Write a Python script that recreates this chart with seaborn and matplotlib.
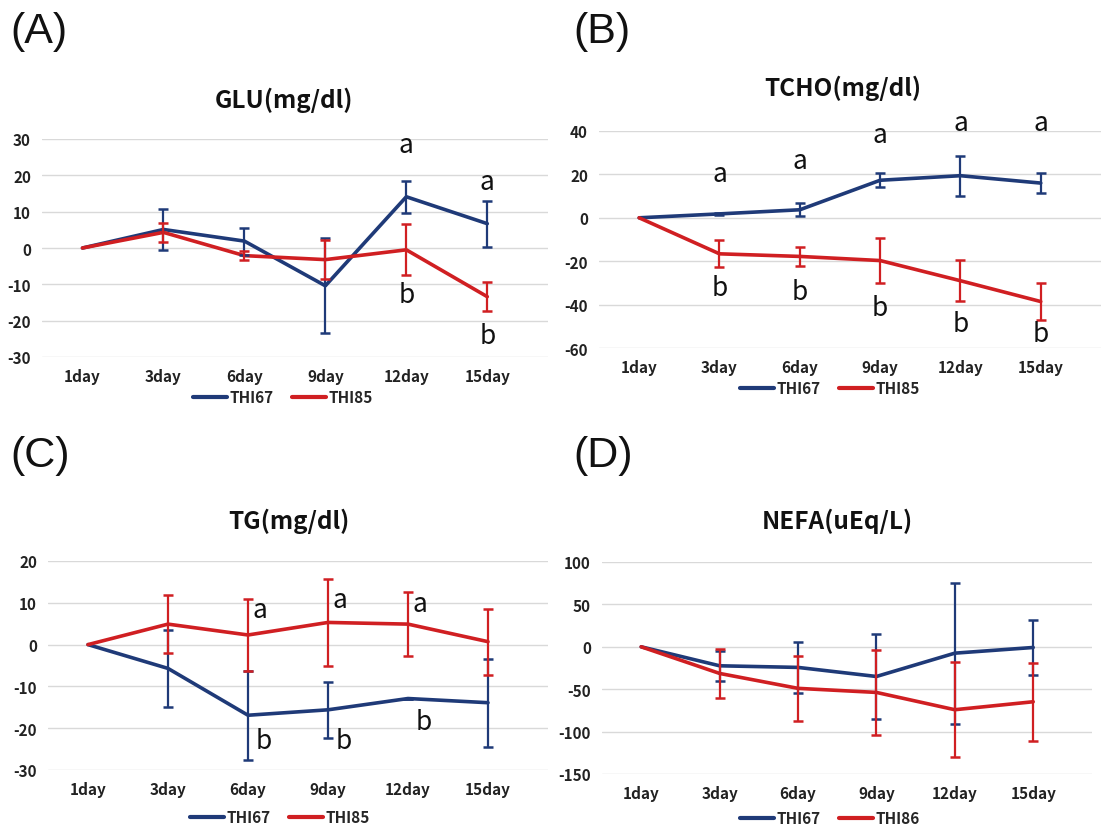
import numpy as np
import pandas as pd
import matplotlib
matplotlib.use("Agg")
import matplotlib.pyplot as plt
from matplotlib.lines import Line2D
import seaborn as sns

days = ["1day", "3day", "6day", "9day", "12day", "15day"]

# (A) GLU
glu_thi67 = [0, 5.1, 1.9, -10.4, 14.1, 6.7]
glu_thi67_err = [0, 5.6, 3.7, 13.1, 4.4, 6.3]
glu_thi85 = [0, 4.3, -2.1, -3.2, -0.5, -13.4]
glu_thi85_err = [0, 2.7, 1.3, 5.3, 7.0, 4.0]

# (B) TCHO
tcho_thi67 = [0, 1.8, 3.7, 17.3, 19.4, 16.0]
tcho_thi67_err = [0, 0.6, 3.0, 3.3, 9.2, 4.6]
tcho_thi85 = [0, -16.6, -17.8, -19.7, -29.0, -38.6]
tcho_thi85_err = [0, 6.2, 4.3, 10.5, 9.5, 8.7]

# (C) TG
tg_thi67 = [0, -5.7, -16.9, -15.6, -12.9, -13.9]
tg_thi67_err = [0, 9.2, 10.7, 6.7, 0, 10.5]
tg_thi85 = [0, 4.9, 2.3, 5.3, 4.9, 0.7]
tg_thi85_err = [0, 6.9, 8.5, 10.4, 7.6, 7.9]

# (D) NEFA
nefa_thi67 = [0, -22.4, -24.3, -35.0, -7.5, -0.8]
nefa_thi67_err = [0, 17.5, 30.0, 50.0, 83.0, 32.0]
nefa_thi86 = [0, -31.4, -49.0, -53.8, -74.2, -64.8]
nefa_thi86_err = [0, 29.0, 38.0, 50.0, 56.0, 46.0]

# significance letters: (day index, y, text)
glu_letters = [(4, 28.6, "a"), (4, -12.7, "b"), (5, 18.3, "a"), (5, -24.0, "b")]
tcho_letters = [(1, 20.3, "a"), (2, 26.4, "a"), (3, 38.2, "a"), (4, 44.0, "a"), (5, 44.0, "a"),
                (1, -32.0, "b"), (2, -34.0, "b"), (3, -41.5, "b"), (4, -48.8, "b"), (5, -53.5, "b")]
tg_letters = [(2.15, 8.5, "a"), (3.15, 10.8, "a"), (4.15, 9.9, "a"),
              (2.2, -23.0, "b"), (3.2, -23.0, "b"), (4.2, -18.5, "b")]
nefa_letters = []

NAVY = "#1f3a78"
RED = "#d01f22"
FONT = ["Noto Sans CJK KR", "DejaVu Sans"]

sns.set_theme(style="white")
plt.rcParams["font.family"] = FONT
plt.rcParams["axes.unicode_minus"] = False

fig = plt.figure(figsize=(11.04, 8.29), dpi=100)
W, H = 1104, 829


def add_axes(left_px, right_px, top_px, bottom_px):
    return fig.add_axes([left_px / W, 1 - bottom_px / H,
                         (right_px - left_px) / W, (bottom_px - top_px) / H])


panels = [
    dict(rect=(42, 548, 140, 358), title="GLU(mg/dl)", label="(A)",
         s1=("THI67", glu_thi67, glu_thi67_err), s2=("THI85", glu_thi85, glu_thi85_err),
         ylim=(-30, 30), yticks=[-30, -20, -10, 0, 10, 20, 30], letters=glu_letters,
         title_xy=(284, 100), label_xy=(10, 32), leg_y=398, leg_x=283),
    dict(rect=(599, 1101, 132, 349), title="TCHO(mg/dl)", label="(B)",
         s1=("THI67", tcho_thi67, tcho_thi67_err), s2=("THI85", tcho_thi85, tcho_thi85_err),
         ylim=(-60, 40), yticks=[-60, -40, -20, 0, 20, 40], letters=tcho_letters,
         title_xy=(843, 88), label_xy=(573, 32), leg_y=389, leg_x=830),
    dict(rect=(48, 548, 562, 771), title="TG(mg/dl)", label="(C)",
         s1=("THI67", tg_thi67, tg_thi67_err), s2=("THI85", tg_thi85, tg_thi85_err),
         ylim=(-30, 20), yticks=[-30, -20, -10, 0, 10, 20], letters=tg_letters,
         title_xy=(289, 521), label_xy=(10, 456), leg_y=818, leg_x=280),
    dict(rect=(602, 1092, 563, 775), title="NEFA(uEq/L)", label="(D)",
         s1=("THI67", nefa_thi67, nefa_thi67_err), s2=("THI86", nefa_thi86, nefa_thi86_err),
         ylim=(-150, 100), yticks=[-150, -100, -50, 0, 50, 100], letters=nefa_letters,
         title_xy=(837, 521), label_xy=(573, 456), leg_y=819, leg_x=830),
]

for p in panels:
    ax = add_axes(*p["rect"])
    n1, v1, e1 = p["s1"]
    n2, v2, e2 = p["s2"]
    df = pd.DataFrame({
        "day": days * 2,
        "value": list(v1) + list(v2),
        "group": [n1] * len(days) + [n2] * len(days),
    })
    ax.set_ylim(*p["ylim"])
    ax.set_yticks(p["yticks"])
    ax.yaxis.grid(True, color="#d9d9d9", linewidth=1.0)
    ax.set_axisbelow(True)
    sns.lineplot(data=df, x="day", y="value", hue="group", sort=False,
                 palette={n1: NAVY, n2: RED}, linewidth=2.6, ax=ax, legend=False)
    xs = np.arange(len(days))
    ax.errorbar(xs[1:], v1[1:], yerr=e1[1:], fmt="none", ecolor=NAVY,
                elinewidth=1.6, capsize=3.5, capthick=1.8, zorder=3)
    ax.errorbar(xs[1:], v2[1:], yerr=e2[1:], fmt="none", ecolor=RED,
                elinewidth=1.6, capsize=3.5, capthick=1.8, zorder=3)
    ax.set_xlim(-0.5, 5.75)
    ax.set_xticks(xs)
    ax.set_xticklabels(days)
    ax.set_xlabel("")
    ax.set_ylabel("")
    for s in ax.spines.values():
        s.set_visible(False)
    ax.tick_params(axis="both", length=0, labelsize=11, colors="#222222", pad=8)
    for t in ax.get_xticklabels() + ax.get_yticklabels():
        t.set_fontweight("bold")
    for (xi, yi, txt) in p["letters"]:
        ax.text(xi, yi, txt, ha="center", va="center", fontsize=19, color="#111111")
    handles = [Line2D([], [], color=NAVY, lw=3), Line2D([], [], color=RED, lw=3)]
    fig.legend(handles, [n1, n2], loc="center", ncol=2, frameon=False,
               bbox_to_anchor=(p["leg_x"] / W, 1 - p["leg_y"] / H),
               handlelength=2.2, handletextpad=0.2, columnspacing=1.2,
               prop={"family": FONT, "weight": "bold", "size": 11})
    fig.text(p["title_xy"][0] / W, 1 - p["title_xy"][1] / H, p["title"],
             ha="center", va="center", fontsize=17.5, fontweight="bold", color="#111111")
    fig.text(p["label_xy"][0] / W, 1 - p["label_xy"][1] / H, p["label"],
             ha="left", va="center", fontsize=31, family=["Liberation Sans", "DejaVu Sans"],
             color="#111111")

fig.savefig("out.png", dpi=100, facecolor="white")
